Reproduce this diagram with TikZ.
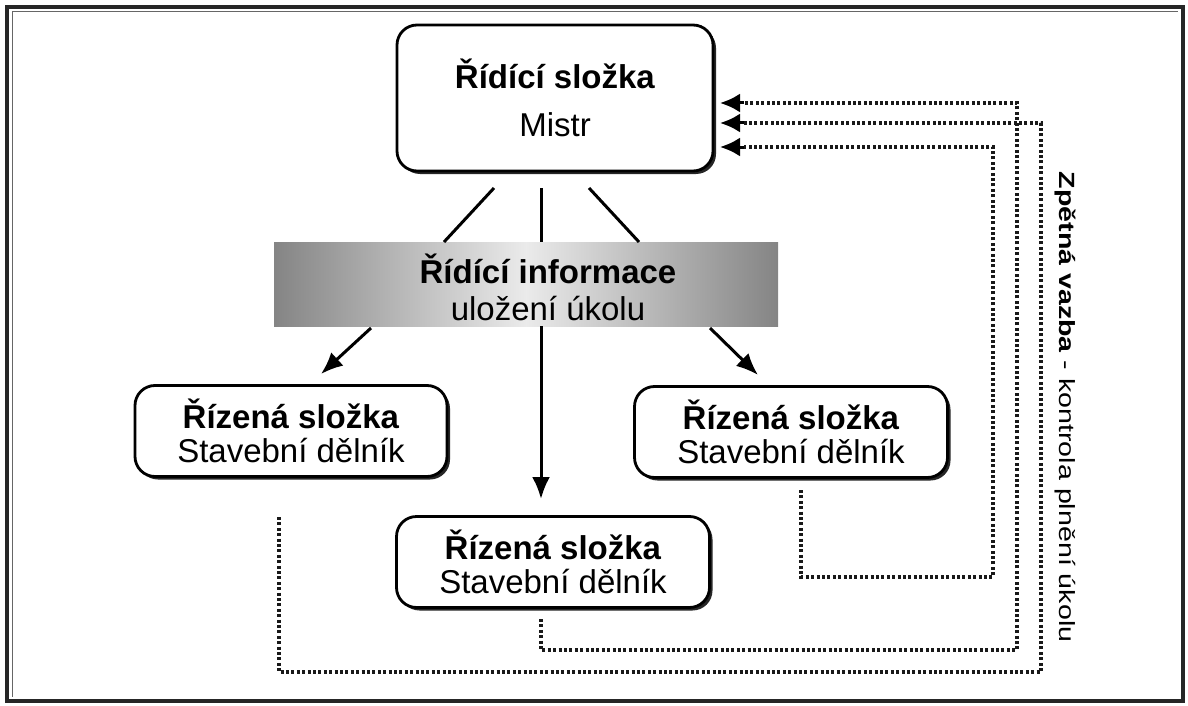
\documentclass[tikz,border=0pt]{standalone}
\usepackage{fontspec}
\setmainfont{Liberation Sans}
\usetikzlibrary{shadows,arrows.meta}
\begin{document}
\begin{tikzpicture}[x=1pt,y=-1pt,
  box/.style={draw=black,line width=2.8pt,rounded corners=20pt,fill=white,
    drop shadow={shadow xshift=3pt,shadow yshift=-3pt,fill=black!85,opacity=1},
    align=center,font=\fontsize{33}{34}\selectfont},
  link/.style={line width=3pt},
  arr/.style={line width=3pt,-{Latex[length=22pt,width=18pt]}},
  fb/.style={line width=3.4pt,dash pattern=on 3pt off 2.4pt,black!90},
  fbtip/.style={line width=3pt,black,-{Latex[length=20pt,width=19pt]}}]
\useasboundingbox (0,0) rectangle (1188,706);
\draw[line width=3.5pt,black!85] (7,7) rectangle (1183,701);
\draw[line width=1pt,black!60] (12,12) -- (1178,12);
\draw[line width=1pt,black!60] (12,12) -- (12,697);
% top box
\node[box,minimum width=316pt,minimum height=146pt] (top) at (555,98)
  {\textbf{Řídící složka}\\[14pt]Mistr};
% band
\node[minimum width=504pt,minimum height=84pt,inner sep=0pt,
  left color=black!48,right color=black!48,middle color=black!8] (band) at (526,284) {};
\node[align=center,font=\fontsize{33}{37}\selectfont] (bandtext) at (548,287)
  {\textbf{Řídící informace}\\uložení úkolu};
% lower boxes
\node[box,minimum width=312pt,minimum height=91pt] (left) at (291,431)
  {\textbf{Řízená složka}\\Stavební dělník};
\node[box,minimum width=313pt,minimum height=91pt] (right) at (791,432)
  {\textbf{Řízená složka}\\Stavební dělník};
\node[box,minimum width=313pt,minimum height=91pt] (bottom) at (553,562)
  {\textbf{Řízená složka}\\Stavební dělník};
% connectors top -> band
\coordinate (t1) at (494,188); \coordinate (b1) at (444,242);
\coordinate (t2) at (541,188); \coordinate (b2) at (541,242);
\coordinate (t3) at (589,188); \coordinate (b3) at (639,242);
\draw[link] (t1) -- (b1);
\draw[link] (t2) -- (b2);
\draw[link] (t3) -- (b3);
% arrows band -> boxes
\coordinate (s1) at (371,328); \coordinate (e1) at (321,374);
\coordinate (s2) at (541,326); \coordinate (e2) at (541,499);
\coordinate (s3) at (710,328); \coordinate (e3) at (758,375);
\draw[arr] (s1) -- (e1);
\draw[arr] (s2) -- (e2);
\draw[arr] (s3) -- (e3);
% feedback
\coordinate (a1) at (720,103); \coordinate (h1) at (744,103);
\coordinate (a2) at (720,123); \coordinate (h2) at (744,123);
\coordinate (a3) at (720,147); \coordinate (h3) at (744,147);
\coordinate (f1) at (541,619);
\coordinate (f2) at (279,517);
\coordinate (f3) at (801,490);
\draw[fb] (f1) |- (1017,650) |- (h1);
\draw[fb] (f2) |- (1041,672) |- (h2);
\draw[fb] (f3) |- (993,577) |- (h3);
\draw[fbtip] (h1) -- (a1);
\draw[fbtip] (h2) -- (a2);
\draw[fbtip] (h3) -- (a3);
% vertical label
\node[rotate=-90,font=\fontsize{22}{24}\selectfont] (lbl) at (1065,407)
  {\scalebox{1.3}[1]{\textbf{Zpětná vazba} - kontrola plnění úkolu}};
\end{tikzpicture}
\end{document}
